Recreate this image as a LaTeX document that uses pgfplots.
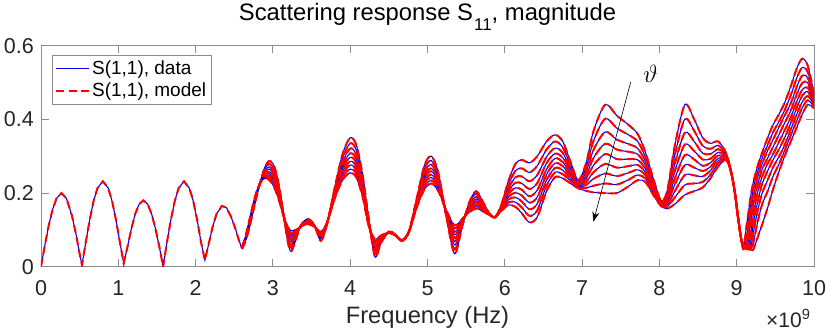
\documentclass[border=0pt]{standalone}
\usepackage{fontspec}
\setmainfont{Liberation Sans}
\usepackage{pgfplots}
\pgfplotsset{compat=1.18}
\usepackage{pgfplotstable}
\usetikzlibrary{arrows.meta}
\definecolor{axgray}{RGB}{140,140,140}
\definecolor{txt}{RGB}{38,38,38}

% below 2.6 GHz all angles give the same curve
\pgfplotstableread{
x y
0.00 0.000
0.05 0.058
0.10 0.112
0.15 0.155
0.20 0.185
0.265 0.200
0.33 0.185
0.40 0.139
0.45 0.091
0.50 0.035
0.53 0.005
0.58 0.067
0.63 0.127
0.68 0.178
0.73 0.213
0.80 0.232
0.87 0.213
0.92 0.178
0.97 0.127
1.02 0.067
1.07 0.009
1.12 0.055
1.17 0.104
1.22 0.144
1.27 0.170
1.325 0.180
1.38 0.170
1.43 0.144
1.48 0.104
1.53 0.055
1.58 0.000
1.63 0.067
1.68 0.127
1.73 0.178
1.78 0.213
1.85 0.232
1.92 0.213
1.97 0.178
2.02 0.127
2.07 0.067
2.12 0.018
2.17 0.062
2.22 0.108
2.27 0.143
2.34 0.165
2.40 0.160
2.46 0.135
2.52 0.100
2.56 0.072
2.60 0.050
}\lowpart

% one column per angle, c1 = top curve
\pgfplotstableread{
x c1 c2 c3 c4 c5 c6 c7 c8 c9
2.60 .048 .049 .049 .050 .050 .051 .051 .052 .052
2.65 .072 .074 .076 .078 .079 .081 .082 .084 .085
2.70 .110 .113 .116 .119 .121 .123 .126 .128 .130
2.75 .155 .158 .161 .164 .166 .168 .171 .173 .175
2.80 .200 .202 .203 .204 .206 .207 .208 .209 .210
2.85 .240 .239 .238 .236 .236 .235 .234 .233 .232
2.90 .272 .267 .262 .258 .254 .251 .247 .244 .240
2.95 .287 .279 .271 .265 .258 .253 .247 .242 .236
3.00 .280 .271 .262 .255 .248 .241 .235 .228 .222
3.05 .250 .242 .234 .227 .221 .215 .209 .204 .198
3.10 .195 .190 .186 .182 .178 .175 .172 .168 .165
3.15 .125 .126 .127 .127 .128 .128 .129 .129 .130
3.20 .060 .067 .074 .080 .085 .090 .095 .100 .105
3.24 .042 .051 .059 .067 .073 .080 .086 .092 .098
3.30 .075 .079 .083 .086 .089 .092 .095 .097 .100
3.36 .112 .111 .111 .110 .110 .109 .109 .108 .108
3.45 .130 .128 .126 .124 .122 .121 .119 .118 .116
3.54 .112 .111 .111 .110 .110 .109 .109 .108 .108
3.62 .070 .074 .078 .081 .084 .087 .090 .092 .095
3.70 .115 .116 .117 .117 .118 .118 .119 .119 .120
3.80 .215 .210 .206 .202 .198 .195 .192 .188 .185
3.90 .305 .294 .283 .274 .266 .258 .250 .243 .235
4.00 .350 .335 .321 .308 .297 .286 .276 .265 .255
4.08 .330 .316 .303 .291 .281 .271 .261 .252 .242
4.16 .250 .240 .231 .224 .216 .210 .203 .197 .190
4.24 .130 .127 .124 .121 .119 .117 .114 .112 .110
4.32 .027 .035 .042 .048 .054 .059 .064 .070 .075
4.40 .065 .068 .071 .074 .076 .078 .081 .083 .085
4.50 .095 .095 .094 .094 .093 .093 .093 .092 .092
4.58 .088 .088 .087 .087 .086 .086 .086 .085 .085
4.67 .070 .070 .071 .071 .071 .071 .072 .072 .072
4.76 .095 .095 .095 .095 .095 .095 .095 .095 .095
4.86 .185 .181 .177 .174 .171 .168 .166 .163 .160
4.96 .275 .265 .255 .246 .239 .231 .224 .217 .210
5.05 .300 .288 .277 .267 .259 .250 .242 .234 .226
5.14 .255 .247 .240 .233 .227 .222 .216 .211 .205
5.24 .140 .142 .145 .147 .148 .150 .152 .153 .155
5.35 .035 .047 .059 .069 .078 .087 .095 .104 .112
5.45 .110 .113 .116 .119 .121 .123 .126 .128 .130
5.54 .175 .171 .167 .163 .160 .157 .154 .151 .148
5.63 .205 .198 .190 .184 .179 .174 .168 .163 .158
5.72 .175 .171 .167 .164 .161 .158 .156 .153 .150
5.80 .145 .144 .143 .143 .142 .142 .141 .141 .140
5.87 .134 .134 .134 .134 .134 .134 .134 .134 .134
5.95 .165 .163 .160 .158 .157 .155 .153 .152 .150
6.05 .235 .224 .214 .206 .198 .190 .183 .175 .168
6.14 .280 .261 .243 .228 .214 .201 .188 .175 .162
6.22 .290 .267 .245 .226 .209 .193 .177 .161 .145
6.32 .282 .256 .232 .211 .191 .174 .156 .138 .120
6.42 .300 .274 .249 .227 .208 .189 .171 .153 .135
6.54 .340 .318 .298 .281 .264 .250 .235 .220 .205
6.65 .358 .340 .322 .307 .294 .281 .268 .256 .243
6.75 .340 .324 .309 .296 .284 .273 .262 .251 .240
6.85 .285 .276 .267 .259 .252 .246 .239 .233 .226
6.95 .235 .231 .228 .225 .223 .220 .218 .215 .213
7.05 .280 .268 .257 .247 .239 .230 .222 .214 .206
7.15 .370 .343 .318 .296 .276 .257 .239 .220 .202
7.30 .440 .402 .366 .334 .306 .279 .253 .226 .200
7.45 .410 .376 .345 .318 .292 .269 .246 .223 .200
7.60 .385 .358 .333 .312 .292 .273 .255 .236 .218
7.72 .360 .340 .321 .305 .290 .276 .263 .249 .235
7.82 .310 .297 .285 .275 .265 .256 .248 .239 .230
7.92 .240 .233 .226 .220 .215 .210 .205 .200 .195
8.02 .180 .178 .175 .173 .172 .170 .168 .167 .165
8.10 .205 .198 .190 .184 .179 .174 .168 .163 .158
8.20 .330 .304 .280 .260 .240 .223 .205 .188 .170
8.33 .440 .401 .364 .332 .303 .276 .249 .222 .195
8.45 .400 .369 .340 .314 .291 .269 .248 .226 .205
8.56 .350 .328 .308 .291 .274 .260 .245 .230 .215
8.66 .335 .320 .306 .293 .282 .271 .261 .250 .240
8.76 .340 .329 .319 .310 .302 .294 .287 .280 .272
8.86 .310 .307 .304 .301 .299 .297 .294 .292 .290
8.92 .265 .265 .264 .264 .264 .263 .263 .262 .262
8.97 .210 .210 .210 .210 .210 .210 .210 .210 .210
9.02 .130 .130 .130 .130 .130 .130 .130 .130 .130
9.06 .070 .070 .070 .072 .072 .073 .074 .075 .075
9.09 .047 .055 .057 .058 .060 .060 .060 .060 .060
9.12 .100 .065 .050 .050 .052 .053 .054 .055 .055
9.15 .145 .120 .095 .070 .048 .048 .050 .050 .052
9.18 .190 .165 .145 .120 .090 .065 .047 .047 .048
9.21 .225 .205 .185 .160 .135 .110 .085 .060 .045
9.24 .250 .235 .215 .195 .170 .145 .120 .090 .060
9.28 .280 .265 .250 .230 .210 .185 .160 .130 .085
9.33 .310 .295 .280 .265 .245 .225 .200 .170 .115
9.40 .350 .330 .315 .295 .280 .260 .235 .205 .160
9.47 .385 .365 .345 .325 .305 .290 .270 .245 .210
9.55 .415 .395 .380 .360 .340 .320 .300 .280 .260
9.62 .445 .425 .410 .390 .370 .350 .330 .315 .300
9.70 .490 .466 .444 .424 .406 .390 .373 .357 .340
9.78 .540 .514 .490 .470 .450 .433 .415 .398 .380
9.85 .565 .541 .519 .499 .481 .465 .448 .432 .415
9.92 .545 .528 .512 .499 .486 .475 .463 .452 .440
10.0 .470 .464 .458 .452 .448 .443 .439 .434 .430
}\highpart

\tikzset{
  dataline/.style={blue, line width=1.1pt},
  modelline/.style={red, line width=2pt, dash pattern=on 8pt off 4.5pt},
}

\begin{document}
\begin{tikzpicture}
\path[use as bounding box] (-41pt,-63.3pt) rectangle (789pt,266.7pt);
\begin{axis}[
    name=ax, at={(0,0)}, anchor=south west,
    scale only axis, width=773pt, height=221pt,
    xmin=0, xmax=10, ymin=0, ymax=0.6,
    xtick={0,1,...,10}, ytick={0,0.2,0.4,0.6},
    tick align=inside, major tick length=7.7pt,
    axis line style={axgray, line width=0.9pt},
    every tick/.style={axgray, line width=0.9pt},
    /pgf/number format/assume math mode=true,
    tick label style={font=\fontsize{21.5}{25}\selectfont, text=txt},
    xticklabel style={anchor=base, yshift=-28.7pt, inner sep=0pt},
    yticklabel style={anchor=east, xshift=-7pt, inner sep=0pt},
    xlabel={Frequency (Hz)},
    xlabel style={at={(axis description cs:0.5,0)}, anchor=base, yshift=-57pt,
      font=\fontsize{23.7}{27}\selectfont, text=txt},
    title={Scattering response S\hspace{1pt}\raisebox{-9.5pt}{\fontsize{17}{17}\selectfont 11}, magnitude},
    title style={at={(axis description cs:0.5,1)}, anchor=base, yshift=19pt,
      font=\fontsize{23.8}{27}\selectfont},
    legend style={at={(axis description cs:0.0138,0.958)}, anchor=north west,
      draw=axgray, line width=0.9pt, font=\fontsize{19}{22}\selectfont,
      inner xsep=3pt, inner ysep=3.5pt, row sep=3pt},
    legend cell align=left,
    legend image code/.code={\draw[#1] (0pt,0pt) -- (33pt,0pt);},
  ]
  % data (blue) first, model (red dashed) on top
  \addplot[dataline, forget plot] table[x=x, y=y]{\lowpart};
  \pgfplotsinvokeforeach{1,...,9}{
    \addplot[dataline, smooth, tension=0.5, forget plot] table[x=x, y=c#1]{\highpart};
  }
  \addplot[modelline, forget plot] table[x=x, y=y]{\lowpart};
  \pgfplotsinvokeforeach{1,...,9}{
    \addplot[modelline, smooth, tension=0.5, forget plot] table[x=x, y=c#1]{\highpart};
  }
  \addlegendimage{dataline}
  \addlegendentry{S(1,1), data}
  \addlegendimage{modelline}
  \addlegendentry{S(1,1), model}

  \draw[black, line width=0.6pt, -{Stealth[length=10pt, width=7pt]}]
    (axis cs:7.63,0.502) -- (axis cs:7.145,0.122);
  \node[font=\fontsize{23}{23}\selectfont] at (axis cs:7.885,0.523) {$\vartheta$};
\end{axis}
\node[anchor=base east, font=\fontsize{21}{24}\selectfont, text=txt]
  at ([yshift=-60.3pt]ax.south east) {×10\textsuperscript{9}};
\end{tikzpicture}
\end{document}
